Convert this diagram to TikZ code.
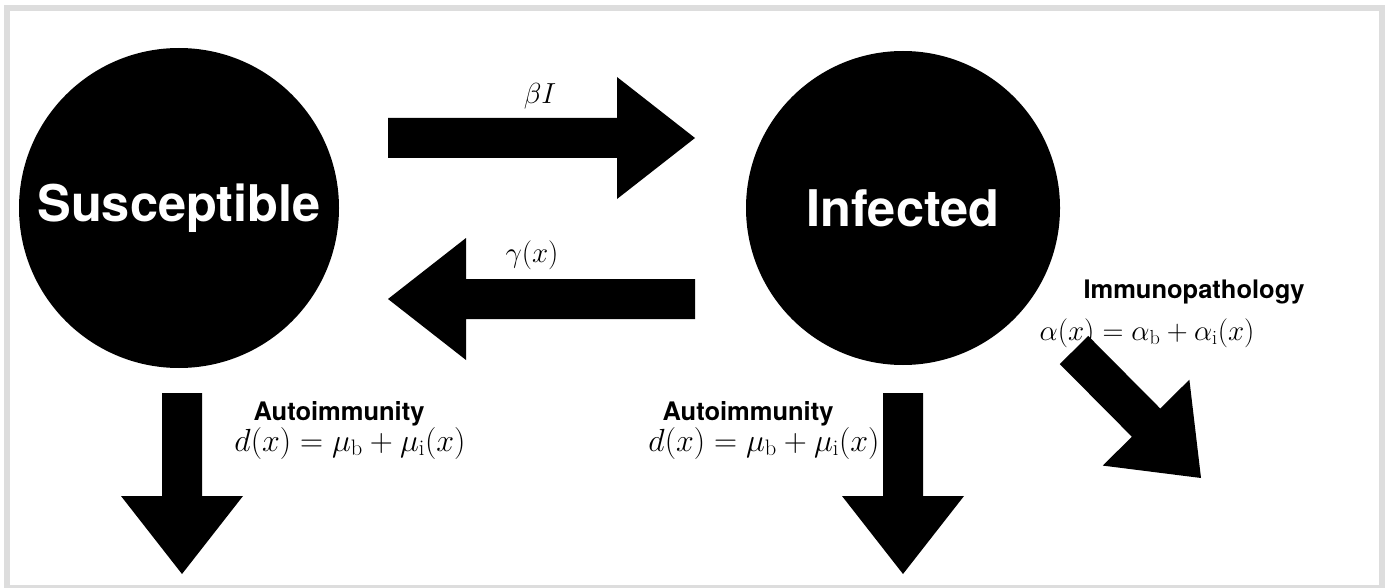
\documentclass[tikz,border=0pt]{standalone}
\usepackage{fix-cm}
\usepackage{amsmath}
\usepackage{fontspec}
\setsansfont{TeX Gyre Heros}
\usetikzlibrary{calc}

\definecolor{framegray}{RGB}{221,221,221}

\newcommand{\fatarrow}[2]{%
  \coordinate (h) at ($(#2)!78pt!(#1)$);
  \fill ($(#1)!20pt!90:(#2)$) -- ($(h)!20pt!90:(#2)$) -- ($(h)!61pt!90:(#2)$) -- (#2)
    -- ($(h)!61pt!-90:(#2)$) -- ($(h)!20pt!-90:(#2)$) -- ($(#1)!20pt!-90:(#2)$) -- cycle;}

\begin{document}
\begin{tikzpicture}[x=1pt, y=-1pt,
    compartment/.style={circle, fill=black, text=white, inner sep=0pt,
      font=\fontsize{50.5}{60}\selectfont\sffamily\bfseries},
    rate/.style={inner sep=0pt, font=\fontsize{29}{34}\selectfont},
    death/.style={inner sep=0pt, font=\fontsize{32}{38}\selectfont},
    effect/.style={inner sep=0pt, font=\fontsize{25.5}{30}\selectfont\sffamily\bfseries}]
      \useasboundingbox (0,0) rectangle (1388,588);
      \draw[framegray, line width=6pt] (7,8) rectangle (1382,588);

      \node[compartment, minimum size=320pt] (S) at (179,208) {Susceptible};
      \node[compartment, minimum size=314pt] (I) at (903,208) {Infected};

      \node[rate] (beta) at (540,96) {$\beta I$};
      \node[rate] (gamma) at (532,255) {$\gamma(x)$};
      \node[effect] (autoS) at (339,414) {Autoimmunity};
      \node[death] (dS) at (350,443) {$d(x) = \mu_{\mathrm{b}} + \mu_{\mathrm{i}}(x)$};
      \node[effect] (autoI) at (748,414) {Autoimmunity};
      \node[death] (dI) at (764,443) {$d(x) = \mu_{\mathrm{b}} + \mu_{\mathrm{i}}(x)$};
      \node[effect] (immuno) at (1194,292) {Immunopathology};
      \node[rate] (alpha) at (1147,333) {$\alpha(x) = \alpha_{\mathrm{b}} + \alpha_{\mathrm{i}}(x)$};

      \coordinate (infFrom) at (388,138);
      \coordinate (infTo) at (695,138);
      \coordinate (recFrom) at (695,299);
      \coordinate (recTo) at (388,299);
      \coordinate (dSFrom) at (182,393);
      \coordinate (dSTo) at (182,574);
      \coordinate (dIFrom) at (903,393);
      \coordinate (dITo) at (903,574);
      \coordinate (aFrom) at (1074,350);
      \coordinate (aTo) at (1201,478);

      \fatarrow{infFrom}{infTo}
      \fatarrow{recFrom}{recTo}
      \fatarrow{dSFrom}{dSTo}
      \fatarrow{dIFrom}{dITo}
      \fatarrow{aFrom}{aTo}
\end{tikzpicture}
\end{document}
